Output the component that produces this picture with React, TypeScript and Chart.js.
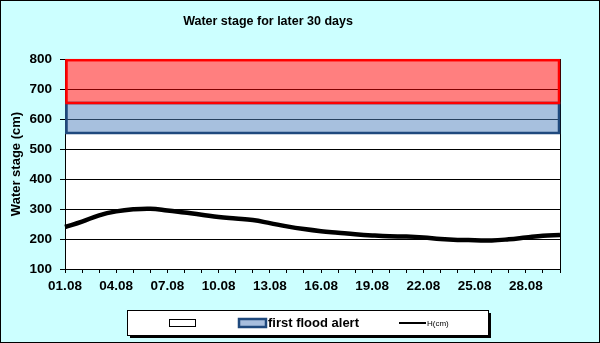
import React, { useEffect, useRef } from "react";
import { Chart, registerables } from "chart.js";

Chart.register(...registerables);

const dayLabels = [
  "01.08", "02.08", "03.08", "04.08", "05.08", "06.08", "07.08", "08.08", "09.08", "10.08",
  "11.08", "12.08", "13.08", "14.08", "15.08", "16.08", "17.08", "18.08", "19.08", "20.08",
  "21.08", "22.08", "23.08", "24.08", "25.08", "26.08", "27.08", "28.08", "29.08", "30.08",
];
const waterStage = [
  240, 258, 279, 292, 299, 301, 295, 288, 281, 273,
  268, 263, 253, 242, 233, 226, 221, 216, 212, 209,
  208, 205, 200, 197, 196, 195, 199, 205, 211, 213,
];
const bandFrom = [650, 550];
const bandTo = [800, 650];
const bandFill = ["rgba(255,0,0,0.5)", "rgba(79,129,189,0.5)"];
const bandBorder = ["#FF0000", "#1F497D"];
const legendTexts = ["", "first flood alert", "H(cm)"];
const titleText = "Water stage for later 30 days";
const yTitle = "Water stage (cm)";

const FONT = "'Liberation Sans', Arial, sans-serif";

const bgPlugin = {
  id: "bgPlugin",
  beforeDraw(chart: any) {
    const { ctx, chartArea } = chart;
    ctx.save();
    ctx.fillStyle = "#CCFFFF";
    ctx.fillRect(0, 0, chart.width, chart.height);
    ctx.fillStyle = "#FFFFFF";
    ctx.fillRect(chartArea.left, chartArea.top, chartArea.right - chartArea.left, chartArea.bottom - chartArea.top);
    ctx.fillStyle = "#000";
    ctx.font = `bold 12.5px ${FONT}`;
    ctx.textAlign = "center";
    ctx.textBaseline = "middle";
    ctx.fillText(titleText, 268, 22);
    ctx.restore();
  },
  beforeDatasetsDraw(chart: any) {
    const { ctx, chartArea } = chart;
    const y = chart.scales.y;
    const l = chartArea.left;
    const r = chartArea.right;
    ctx.save();
    ctx.strokeStyle = "#000";
    ctx.lineWidth = 1;
    ctx.beginPath();
    ctx.moveTo(r + 0.5, chartArea.top);
    ctx.lineTo(r + 0.5, chartArea.bottom);
    ctx.stroke();
    for (let i = 0; i < bandFrom.length; i++) {
      const t = y.getPixelForValue(bandTo[i]);
      const b = y.getPixelForValue(bandFrom[i]);
      ctx.fillStyle = bandFill[i];
      ctx.fillRect(l, t, r - l, b - t);
    }
    for (let i = bandFrom.length - 1; i >= 0; i--) {
      const t = y.getPixelForValue(bandTo[i]);
      const b = y.getPixelForValue(bandFrom[i]);
      ctx.strokeStyle = bandBorder[i];
      ctx.lineWidth = 2.5;
      const top = i === 0 ? t + 1.2 : t - 1;
      ctx.strokeRect(l + 1.5, top, r - l - 2.5, b - 1 - top);
    }
    ctx.restore();
  },
  afterDraw(chart: any) {
    const { ctx } = chart;
    ctx.save();
    const bx = 127, by = 310, bw = 361, bh = 25;
    ctx.fillStyle = "#000";
    ctx.fillRect(bx + 3, by + 3, bw, bh);
    ctx.fillStyle = "#fff";
    ctx.fillRect(bx, by, bw, bh);
    ctx.strokeStyle = "#000";
    ctx.lineWidth = 1;
    ctx.strokeRect(bx + 0.5, by + 0.5, bw, bh);
    ctx.fillStyle = "#fff";
    ctx.fillRect(169.5, 319.5, 26, 7);
    ctx.strokeRect(169.5, 319.5, 26, 7);
    ctx.fillStyle = "#A7BEDE";
    ctx.fillRect(239, 319, 27, 8);
    ctx.strokeStyle = "#1F497D";
    ctx.lineWidth = 2.5;
    ctx.strokeRect(239, 319, 27, 8);
    ctx.fillStyle = "#000";
    ctx.font = `bold 13px ${FONT}`;
    ctx.textBaseline = "middle";
    ctx.textAlign = "left";
    ctx.fillText(legendTexts[1], 268, 323);
    if (legendTexts[0]) ctx.fillText(legendTexts[0], 197, 323);
    ctx.strokeStyle = "#000";
    ctx.lineWidth = 2;
    ctx.beginPath();
    ctx.moveTo(399, 323);
    ctx.lineTo(426, 323);
    ctx.stroke();
    ctx.font = `8px ${FONT}`;
    ctx.fillText(legendTexts[2], 427, 323.5);
    ctx.strokeStyle = "#000";
    ctx.lineWidth = 1;
    ctx.strokeRect(0.5, 0.5, chart.width - 1, chart.height - 1);
    ctx.restore();
  },
};

export default function App() {
  const ref = useRef<HTMLCanvasElement | null>(null);
  useEffect(() => {
    if (!ref.current) return;
    const chart = new Chart(ref.current, {
      type: "line",
      data: {
        labels: dayLabels,
        datasets: [
          {
            label: legendTexts[2],
            data: waterStage,
            borderColor: "#000",
            borderWidth: 4.5,
            pointRadius: 0,
            tension: 0.4,
            fill: false,
          },
        ],
      },
      plugins: [bgPlugin],
      options: {
        responsive: false,
        animation: false,
        devicePixelRatio: 1,
        layout: { padding: { left: 0, right: 40, top: 59, bottom: 44 } },
        plugins: {
          legend: { display: false },
          tooltip: { enabled: false },
          title: { display: false },
        },
        scales: {
          x: {
            type: "category",
            offset: false,
            grid: {
              drawOnChartArea: false,
              drawTicks: true,
              tickLength: 4,
              tickColor: "#000",
              tickWidth: 1,
            },
            border: { color: "#000", width: 1 },
            ticks: {
              autoSkip: false,
              maxRotation: 0,
              minRotation: 0,
              color: "#000",
              padding: 5,
              font: { family: FONT, size: 13.5, weight: "bold" },
              callback: (_v: any, i: number) => (i % 3 === 0 ? dayLabels[i] : ""),
            },
            afterFit: (s: any) => {
              s.height = 30;
            },
          },
          y: {
            min: 100,
            max: 800,
            grid: {
              color: "#000",
              lineWidth: 1,
              drawTicks: true,
              tickLength: 5,
              tickColor: "#000",
            },
            border: { color: "#000", width: 1 },
            ticks: {
              stepSize: 100,
              color: "#000",
              padding: 8,
              font: { family: FONT, size: 13.5, weight: "bold" },
            },
            title: {
              display: true,
              text: yTitle,
              color: "#000",
              font: { family: FONT, size: 13, weight: "bold" },
              padding: { top: 9, bottom: 0 },
            },
            afterFit: (s: any) => {
              s.width = 65;
            },
          },
        },
      },
    } as any);
    return () => chart.destroy();
  }, []);
  return (
    <div style={{ position: "fixed", left: 0, top: 0, width: 600, height: 343 }}>
      <canvas ref={ref} width={600} height={343} style={{ width: 600, height: 343, display: "block" }} />
    </div>
  );
}
